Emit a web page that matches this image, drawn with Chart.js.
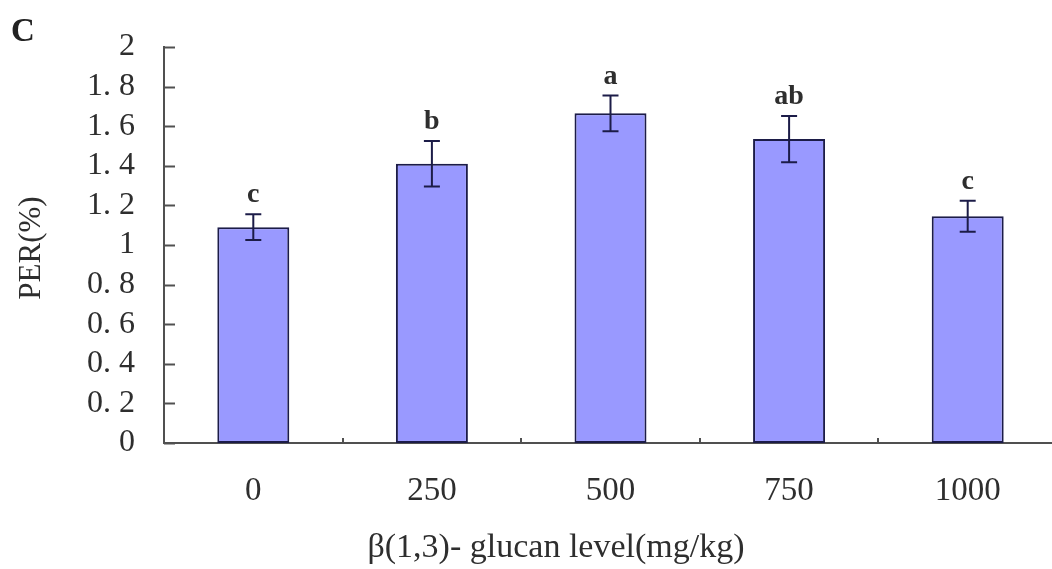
<!DOCTYPE html>
<html>
<head>
<meta charset="utf-8">
<script src="https://cdn.jsdelivr.net/npm/chart.js@4"></script>
<style>
  html, body { margin: 0; padding: 0; background: #fff; overflow: hidden; }
  #wrap { position: relative; width: 1060px; height: 569px; }
</style>
</head>
<body>
<div id="wrap"><canvas id="chart"></canvas></div>
<script>
// values
const levels = ['0', '250', '500', '750', '1000'];
const perMeans = [1.09, 1.41, 1.665, 1.535, 1.145];
const perErrors = [0.065, 0.115, 0.09, 0.117, 0.078];
const sigLetters = ['c', 'b', 'a', 'ab', 'c'];

const serif = '"Liberation Serif", "Times New Roman", serif';
const axisColor = '#505050';
const inkColor = '#1c1c48';
const textColor = '#2e2e2e';

const fmtY = (v) => (Number.isInteger(v) ? String(v) : v.toFixed(1).replace('.', '. '));

// error bars, letters, inward ticks, axis titles
const extras = {
  id: 'extras',
  afterDatasetsDraw(chart) {
    const { ctx, chartArea } = chart;
    const x = chart.scales.x;
    const y = chart.scales.y;
    const meta = chart.getDatasetMeta(0);
    ctx.save();

    // inward y ticks
    ctx.strokeStyle = axisColor;
    ctx.lineWidth = 2;
    y.ticks.forEach((t) => {
      const py = Math.round(y.getPixelForValue(t.value)) + 0.5;
      ctx.beginPath();
      ctx.moveTo(chartArea.left, py);
      ctx.lineTo(chartArea.left + 11, py);
      ctx.stroke();
    });
    // small ticks between categories
    for (let i = 1; i < levels.length; i++) {
      const px = Math.round((x.getPixelForValue(i - 1) + x.getPixelForValue(i)) / 2);
      ctx.beginPath();
      ctx.moveTo(px, chartArea.bottom);
      ctx.lineTo(px, chartArea.bottom - 5);
      ctx.stroke();
    }

    // error bars
    ctx.strokeStyle = inkColor;
    ctx.lineWidth = 2;
    meta.data.forEach((bar, i) => {
      const cx = bar.x;
      const top = y.getPixelForValue(perMeans[i] + perErrors[i]);
      const bot = y.getPixelForValue(perMeans[i] - perErrors[i]);
      ctx.beginPath();
      ctx.moveTo(cx, top); ctx.lineTo(cx, bot);
      ctx.moveTo(cx - 8, top); ctx.lineTo(cx + 8, top);
      ctx.moveTo(cx - 8, bot); ctx.lineTo(cx + 8, bot);
      ctx.stroke();

      ctx.fillStyle = textColor;
      ctx.font = 'bold 28px ' + serif;
      ctx.textAlign = 'center';
      ctx.textBaseline = 'alphabetic';
      ctx.fillText(sigLetters[i], cx, top - 12);
    });

    // axis titles and panel letter
    ctx.fillStyle = textColor;
    ctx.font = '34px ' + serif;
    ctx.textAlign = 'center';
    ctx.textBaseline = 'middle';
    ctx.fillText('β(1,3)- glucan level(mg/kg)', 556, 548);

    ctx.save();
    ctx.translate(32, 248);
    ctx.rotate(-Math.PI / 2);
    ctx.font = '31px ' + serif;
    ctx.fillText('PER(%)', 0, 0);
    ctx.restore();

    ctx.font = 'bold 33px ' + serif;
    ctx.textAlign = 'left';
    ctx.textBaseline = 'alphabetic';
    ctx.fillStyle = '#222';
    ctx.fillText('C', 11, 41);
    ctx.restore();
  }
};

new Chart(document.getElementById('chart'), {
  type: 'bar',
  data: {
    labels: levels,
    datasets: [{
      data: perMeans,
      backgroundColor: '#9999ff',
      borderColor: inkColor,
      borderWidth: 2,
      borderSkipped: false,
      categoryPercentage: 1,
      barPercentage: 0.403
    }]
  },
  options: {
    responsive: true,
    maintainAspectRatio: false,
    animation: false,
    layout: { padding: { top: 47, right: 3, bottom: 0, left: 0 } },
    plugins: {
      legend: { display: false },
      tooltip: { enabled: false }
    },
    scales: {
      x: {
        grid: { display: false, drawTicks: false },
        border: { color: axisColor, width: 2 },
        ticks: { color: textColor, font: { family: serif, size: 33 }, padding: 29 },
        afterFit(scale) { scale.height = 126; }
      },
      y: {
        min: 0,
        max: 2,
        grid: { display: false, drawTicks: false },
        border: { color: axisColor, width: 2 },
        ticks: {
          stepSize: 0.2,
          autoSkip: false,
          color: textColor,
          font: { family: serif, size: 32, lineHeight: 1 },
          padding: 29,
          callback: (v) => fmtY(Math.round(v * 10) / 10)
        },
        afterFit(scale) { scale.width = 164; }
      }
    }
  },
  plugins: [extras]
});
</script>
</body>
</html>
